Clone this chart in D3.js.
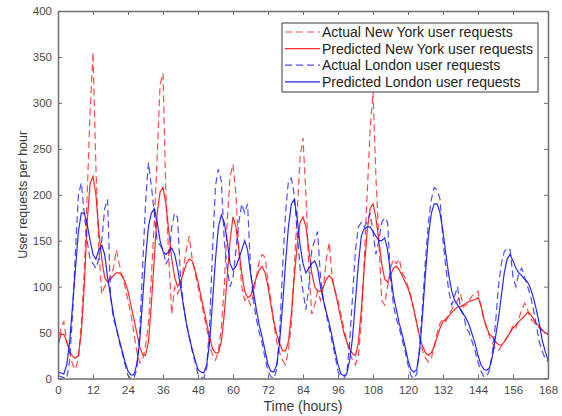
<!DOCTYPE html>
<html>
<head>
    <title>User requests per hour</title>
    <script src="https://cdnjs.cloudflare.com/ajax/libs/d3/7.8.5/d3.min.js"></script>
    <style>
        body {
            margin: 0;
            background: #fff;
        }

        svg {
            font-family: "Liberation Sans", Arial, sans-serif;
        }

        .axis path,
        .axis line {
            stroke: #6e6e6e;
        }

        .axis text {
            fill: #4a4a4a;
            font-size: 11.5px;
        }

        .axis-label {
            fill: #3a3a3a;
        }

        .series {
            fill: none;
            stroke-width: 1.2px;
        }

        .legend text {
            font-size: 14px;
            fill: #222;
        }
    </style>
</head>
<body>
<svg id="chart"></svg>

<script>
    const width = 562;
    const height = 416;
    const margin = { top: 11, right: 14, bottom: 37.5, left: 58 };

    // hours 0..168
    const hours = d3.range(0, 169);
    const xTicks = d3.range(0, 169, 12);
    const yTicks = d3.range(0, 401, 50);

    const nyActual = [
        35, 55, 62, 40, 28, 15, 10, 22, 60, 115, 200, 290,
        355, 230, 140, 92, 100, 105, 110, 120, 140, 125, 110, 100,
        85, 70, 50, 30, 17, 20, 35, 60, 110, 170, 240, 320,
        332, 200, 130, 70, 100, 92, 100, 120, 140, 155, 130, 115,
        100, 85, 70, 55, 35, 26, 20, 30, 55, 100, 170, 220,
        233, 200, 140, 100, 85, 88, 80, 92, 110, 128, 135, 132,
        105, 85, 60, 40, 28, 20, 15, 30, 60, 120, 180, 240,
        262, 200, 120, 70, 80, 95, 85, 100, 130, 148, 110, 95,
        85, 70, 55, 40, 28, 20, 15, 25, 60, 130, 200, 270,
        312, 220, 150, 85, 80, 100, 120, 130, 125, 130, 115, 110,
        100, 90, 75, 60, 45, 30, 22, 18, 22, 35, 50, 60,
        65, 62, 70, 75, 80, 85, 92, 78, 80, 85, 90, 92,
        95, 78, 65, 55, 45, 38, 32, 30, 35, 40, 45, 50,
        58, 55, 65, 75, 82, 75, 65, 62, 58, 55, 52, 50,
        48
    ];

    const nyPredicted = [
        36, 48, 48, 40, 30, 24, 22, 25, 50, 100, 170, 212,
        220, 200, 160, 130, 110, 105, 108, 112, 115, 115, 112, 105,
        95, 80, 65, 50, 35, 26, 25, 40, 80, 130, 180, 203,
        208, 190, 160, 130, 110, 100, 105, 115, 125, 130, 128, 118,
        105, 90, 75, 60, 45, 32, 28, 28, 40, 70, 110, 150,
        176, 165, 140, 115, 95, 88, 90, 100, 110, 118, 122, 115,
        100, 80, 62, 48, 38, 30, 30, 40, 70, 110, 145, 170,
        176, 165, 140, 115, 100, 95, 95, 100, 108, 112, 108, 95,
        80, 65, 50, 40, 32, 27, 25, 40, 75, 120, 160, 185,
        190, 175, 150, 125, 108, 105, 112, 120, 122, 118, 112, 105,
        98, 88, 75, 60, 45, 35, 28, 25, 28, 35, 45, 55,
        62, 65, 68, 72, 75, 78, 78, 80, 82, 84, 85, 86,
        88, 80, 65, 55, 48, 45, 40, 37, 36, 40, 45, 50,
        55, 58, 62, 65, 68, 72, 70, 65, 60, 57, 53, 50,
        48
    ];

    const londonActual = [
        3, 2, 1, 0, 20, 70, 140, 200, 213, 180, 150, 130,
        125, 120, 130, 150, 185, 195, 90, 65, 55, 40, 28, 15,
        3, 0, 0, 10, 50, 120, 190, 235, 210, 180, 150, 145,
        140, 125, 130, 165, 180, 175, 110, 80, 60, 45, 30, 18,
        5, 2, 0, 12, 60, 140, 210, 228, 215, 150, 120, 100,
        110, 140, 170, 190, 180, 190, 120, 85, 65, 50, 38, 22,
        8, 2, 0, 10, 50, 120, 180, 215, 218, 200, 160, 120,
        95, 75, 100, 140, 150, 160, 110, 85, 70, 55, 40, 25,
        8, 0, 0, 5, 40, 90, 140, 165, 170, 165, 170, 180,
        160, 135, 150, 170, 175, 170, 110, 80, 65, 55, 42, 30,
        15, 3, 0, 5, 35, 80, 130, 170, 195, 208, 205, 195,
        150, 120, 95, 80, 90, 100, 75, 70, 55, 50, 40, 30,
        18, 8, 2, 2, 10, 30, 60, 100, 125, 138, 142, 140,
        110, 100, 115, 120, 110, 100, 90, 75, 58, 40, 30, 22,
        18
    ];

    const londonPredicted = [
        7, 6, 5, 15, 40, 80, 120, 160, 180, 180, 168, 150,
        135, 130, 140, 145, 135, 110, 90, 70, 55, 42, 30, 18,
        8, 4, 4, 15, 40, 85, 130, 165, 180, 185, 170, 150,
        138, 135, 138, 142, 135, 120, 100, 80, 60, 45, 32, 20,
        10, 7, 6, 15, 40, 85, 130, 165, 178, 170, 150, 125,
        118, 122, 130, 140, 150, 140, 115, 95, 75, 58, 45, 30,
        15, 8, 7, 15, 40, 80, 125, 165, 190, 195, 175, 145,
        125, 115, 120, 125, 128, 120, 100, 85, 72, 60, 45, 30,
        15, 5, 3, 5, 20, 45, 85, 125, 155, 163, 165, 165,
        160, 155, 150, 150, 153, 140, 115, 90, 75, 60, 48, 35,
        20, 10, 7, 10, 30, 70, 115, 155, 180, 190, 190, 180,
        160, 135, 112, 95, 85, 80, 75, 70, 65, 58, 48, 38,
        25, 15, 10, 9, 12, 25, 45, 65, 90, 115, 130, 135,
        128, 120, 115, 112, 108, 105, 98, 88, 75, 60, 42, 30,
        20
    ];

    const series = [
        { name: "Actual New York user requests", values: nyActual, color: "#ff2020", dash: "7,4" },
        { name: "Predicted New York user requests", values: nyPredicted, color: "#ff1010", dash: null },
        { name: "Actual London user requests", values: londonActual, color: "#2020ff", dash: "7,4" },
        { name: "Predicted London user requests", values: londonPredicted, color: "#1010ff", dash: null }
    ];

    const svg = d3.select("#chart")
        .attr("width", width)
        .attr("height", height);

    const x = d3.scaleLinear()
        .domain([0, 168])
        .range([margin.left, width - margin.right]);

    const y = d3.scaleLinear()
        .domain([0, 400])
        .range([height - margin.bottom, margin.top]);

    const line = d3.line()
        .x((d, i) => x(hours[i]))
        .y(d => y(d));

    // clip so lines stay inside the box
    svg.append("clipPath")
        .attr("id", "plot-clip")
        .append("rect")
        .attr("x", x(0))
        .attr("y", y(400))
        .attr("width", x(168) - x(0))
        .attr("height", y(0) - y(400));

    svg.append("g")
        .attr("clip-path", "url(#plot-clip)")
        .selectAll("path")
        .data(series)
        .join("path")
        .attr("class", "series")
        .attr("d", d => line(d.values))
        .attr("stroke", d => d.color)
        .attr("stroke-opacity", d => d.dash ? 0.8 : 0.9)
        .attr("stroke-dasharray", d => d.dash);

    // axes, ticks pointing inward like matlab
    svg.append("g")
        .attr("class", "axis")
        .attr("transform", `translate(0,${y(0)})`)
        .call(d3.axisBottom(x).tickValues(xTicks).tickSizeInner(-4).tickSizeOuter(0).tickPadding(7));

    svg.append("g")
        .attr("class", "axis")
        .attr("transform", `translate(0,${y(400)})`)
        .call(d3.axisTop(x).tickValues(xTicks).tickSizeInner(-4).tickSizeOuter(0).tickFormat(""));

    svg.append("g")
        .attr("class", "axis")
        .attr("transform", `translate(${x(0)},0)`)
        .call(d3.axisLeft(y).tickValues(yTicks).tickSizeInner(-4).tickSizeOuter(0).tickPadding(6));

    svg.append("g")
        .attr("class", "axis")
        .attr("transform", `translate(${x(168)},0)`)
        .call(d3.axisRight(y).tickValues(yTicks).tickSizeInner(-4).tickSizeOuter(0).tickFormat(""));

    svg.selectAll(".axis .domain").attr("stroke-width", 1.5);

    svg.append("text")
        .attr("class", "axis-label")
        .attr("x", (x(0) + x(168)) / 2)
        .attr("y", 411)
        .attr("text-anchor", "middle")
        .style("font-size", "14px")
        .text("Time (hours)");

    svg.append("text")
        .attr("class", "axis-label")
        .attr("transform", `translate(27,${(y(0) + y(400)) / 2 + 0}) rotate(-90)`)
        .attr("text-anchor", "middle")
        .style("font-size", "12.5px")
        .text("User requests per hour");

    // legend
    const legend = svg.append("g").attr("class", "legend");

    legend.append("rect")
        .attr("x", 282)
        .attr("y", 23)
        .attr("width", 256)
        .attr("height", 69)
        .attr("fill", "#fff")
        .attr("stroke", "#3a3a3a")
        .attr("stroke-width", 1);

    const row = legend.selectAll("g.row")
        .data(series)
        .join("g")
        .attr("class", "row")
        .attr("transform", (d, i) => `translate(0,${32 + i * 16.6})`);

    row.append("line")
        .attr("x1", 285)
        .attr("x2", 320)
        .attr("stroke", d => d.color)
        .attr("stroke-width", 1.2)
        .attr("stroke-opacity", d => d.dash ? 0.8 : 0.9)
        .attr("stroke-dasharray", d => d.dash);

    row.append("text")
        .attr("x", 322)
        .attr("y", 5)
        .text(d => d.name);
</script>
</body>
</html>
